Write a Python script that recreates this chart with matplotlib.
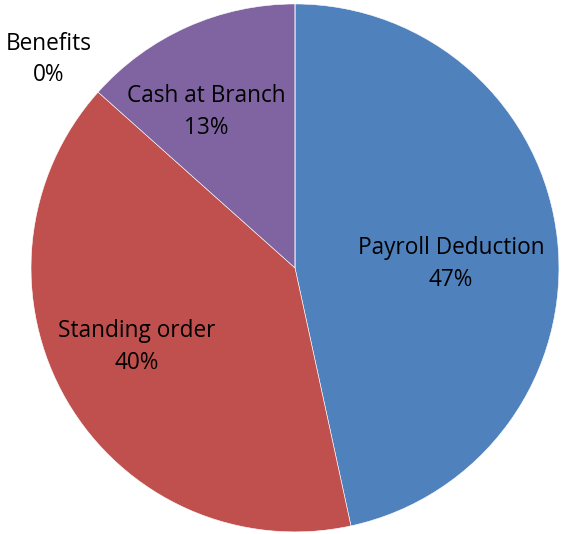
import matplotlib.pyplot as plt

# Pie data
categories = ['Payroll Deduction', 'Standing order', 'Cash at Branch', 'Benefits']
values = [46.6, 40.0, 13.4, 0]
colors = ['#4F81BD', '#C0504D', '#8064A2', '#9BBB59']

# label anchor points (data units, pie radius = 1)
label_x = [0.591, -0.598, -0.337, -0.932]
label_y = [0.014, -0.300, 0.590, 0.790]

total = sum(values)
labels = [f'{c}\n{round(v / total * 100)}%' for c, v in zip(categories, values)]

fig = plt.figure(figsize=(5.62, 5.34), dpi=100)
ax = fig.add_axes([0, 0, 1, 1])

wedges, texts = ax.pie(values, labels=labels, colors=colors, startangle=90,
                       counterclock=False,
                       wedgeprops=dict(edgecolor='white', linewidth=0.4),
                       textprops=dict(fontsize=16.3, family='Open Sans'))

for t, x, y in zip(texts, label_x, label_y):
    t.set_position((x, y))
    t.set_ha('center')
    t.set_va('center')
    t.set_multialignment('center')
    t.set_linespacing(1.42)

ax.set_aspect('equal')
ax.set_xlim(-1.117, 1.011)
ax.set_ylim(-1.008, 1.015)
ax.axis('off')

plt.savefig('out.png', dpi=100)
